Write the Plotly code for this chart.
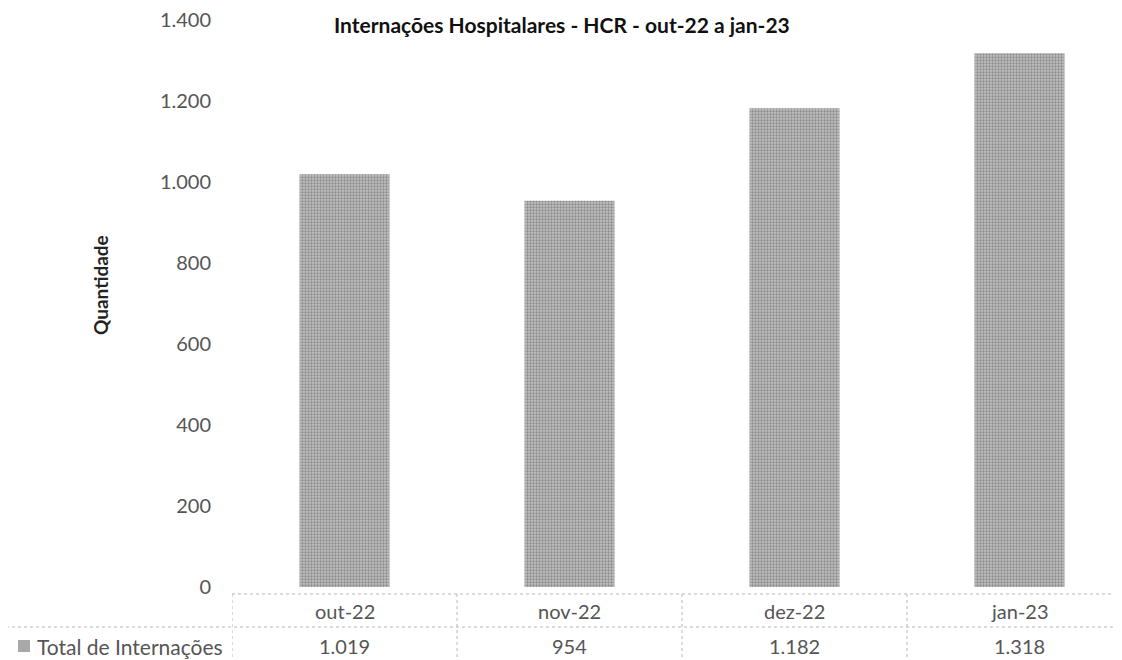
import plotly.graph_objects as go

categories = ["out-22", "nov-22", "dez-22", "jan-23"]
values = [1019, 954, 1182, 1318]
value_labels = ["1.019", "954", "1.182", "1.318"]
series_name = "Total de Internações"
title_text = "Internações Hospitalares - HCR - out-22 a jan-23"
y_tickvals = [0, 200, 400, 600, 800, 1000, 1200, 1400]
y_ticktext = ["0", "200", "400", "600", "800", "1.000", "1.200", "1.400"]

W, H = 1122, 660
OFF = 8  # page body margin offset
ML, MR, MT, MB = 224, 0, 12, 81
PW, PH = W - ML - MR, H - MT - MB
FONT = "Lato"
TXT = "#555555"
BAR = "#a8a8a8"
GRID = "#b8b8b8"


def px(x):
    """reference-pixel x -> paper coordinate"""
    return (x - OFF - ML) / PW


def py(y):
    """reference-pixel y -> paper coordinate"""
    return (H - MB - (y - OFF)) / PH


fig = go.Figure()
fig.add_trace(go.Bar(
    x=list(range(len(categories))), y=values, name=series_name,
    marker=dict(color=BAR, line=dict(width=0),
                pattern=dict(shape=".", fgcolor="#8a8a8a", bgcolor="#c2c2c2",
                             size=3, solidity=0.45, fillmode="replace")),
    width=0.4, showlegend=False,
))

annotations = []
annotations.append(dict(text="<b>" + title_text + "</b>", xref="paper", yref="paper",
                        x=px(562), y=py(24), yanchor="middle", xanchor="center",
                        showarrow=False, font=dict(family=FONT, size=21, color="#111")))
annotations.append(dict(text="<b>Quantidade</b>", xref="paper", yref="paper",
                        x=px(100), y=py(285), textangle=-90, showarrow=False,
                        xanchor="center", yanchor="middle",
                        font=dict(family=FONT, size=19, color="#222")))
for i, (c, v) in enumerate(zip(categories, value_labels)):
    annotations.append(dict(text=c, xref="x", yref="paper", x=i, y=py(611),
                            showarrow=False, yanchor="middle",
                            font=dict(family=FONT, size=20, color=TXT)))
    annotations.append(dict(text=v, xref="x", yref="paper", x=i, y=py(646),
                            showarrow=False, yanchor="middle",
                            font=dict(family=FONT, size=20, color=TXT)))
annotations.append(dict(text=series_name, xref="paper", yref="paper", x=px(35), y=py(646),
                        xanchor="left", yanchor="middle", showarrow=False,
                        font=dict(family=FONT, size=21, color=TXT)))

shapes = []
line = dict(color=GRID, width=1, dash="dot")
shapes.append(dict(type="line", xref="paper", yref="paper", x0=px(232), x1=1,
                   y0=py(594), y1=py(594), line=line))
shapes.append(dict(type="line", xref="paper", yref="paper", x0=px(0), x1=1,
                   y0=py(627), y1=py(627), line=line))
for b in [-0.5, 0.5, 1.5, 2.5]:
    shapes.append(dict(type="line", xref="x", yref="paper", x0=b, x1=b,
                       y0=py(594), y1=py(668), line=line))
shapes.append(dict(type="line", xref="paper", yref="paper", x0=px(1.5), x1=px(1.5),
                   y0=py(627), y1=py(668), line=line))
shapes.append(dict(type="rect", xref="paper", yref="paper", x0=px(18), x1=px(30),
                   y0=py(652), y1=py(640), fillcolor=BAR, line=dict(width=0)))

fig.update_layout(
    width=W, height=H, margin=dict(l=ML, r=MR, t=MT, b=MB),
    paper_bgcolor="white", plot_bgcolor="white",
    xaxis=dict(range=[-0.5, -0.5 + PW / 225], showticklabels=False, showgrid=False,
               zeroline=False, showline=False, ticks=""),
    yaxis=dict(range=[0, 1400], tickvals=y_tickvals, ticktext=y_ticktext,
               showgrid=False, zeroline=False, showline=False, ticks="",
               ticklabelstandoff=20, ticklabeloverflow="allow",
               tickfont=dict(family=FONT, size=20, color=TXT)),
    annotations=annotations, shapes=shapes,
    font=dict(family=FONT), showlegend=False,
)
fig.write_html("out.html")
